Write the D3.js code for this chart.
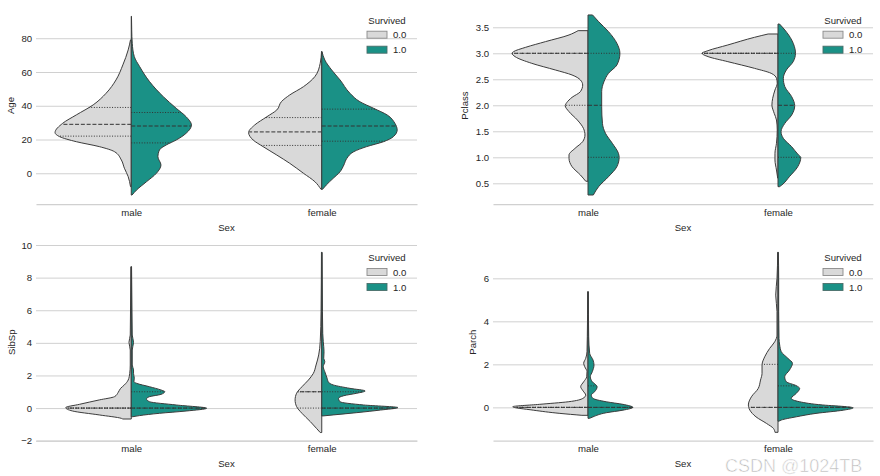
<!DOCTYPE html>
<html><head><meta charset="utf-8">
<script src="https://cdn.jsdelivr.net/npm/d3@7"></script>
<style>
body{margin:0;background:#fff}
svg{display:block}
text{font-family:"Liberation Sans",Arial,sans-serif;fill:#262626}
</style>
</head><body>
<svg id="chart" width="880" height="476"></svg>
<script>
// ---------- data ----------
const categories = ["male", "female"];
const hueLevels = ["0.0", "1.0"];
const hueTitle = "Survived";
const xLabel = "Sex";

// Half-violin profiles: [value, relative half-width (1 = full half width)]
// Age
const ageMale0 = [[79.0,0.01],[73.1,0.04],[64.2,0.11],[55.3,0.20],[47.4,0.33],[40.5,0.50],[34.6,0.72],[29.6,0.90],[24.1,1.00],[21.7,0.94],[18.7,0.72],[15.8,0.42],[12.8,0.22],[7.9,0.13],[3.0,0.09],[-2.0,0.04],[-7.9,0.01]];
const ageMale1 = [[93.0,0.003],[85.0,0.006],[77.0,0.013],[69.1,0.04],[63.2,0.11],[54.3,0.24],[45.4,0.42],[38.5,0.59],[33.5,0.72],[28.6,0.79],[23.7,0.72],[19.7,0.59],[16.8,0.46],[13.8,0.37],[9.8,0.35],[4.9,0.39],[0.0,0.33],[-5.0,0.20],[-9.9,0.07],[-12.9,0.01]];
const ageFemale0 = [[72.1,0.003],[65.2,0.02],[57.3,0.09],[51.3,0.24],[46.4,0.42],[42.4,0.53],[37.5,0.59],[33.5,0.72],[28.6,0.88],[24.1,0.96],[19.7,0.90],[15.8,0.77],[10.8,0.59],[5.9,0.42],[0.0,0.24],[-5.0,0.09],[-9.5,0.01]];
const ageFemale1 = [[72.1,0.003],[67.1,0.04],[61.2,0.13],[55.3,0.24],[47.4,0.37],[42.4,0.50],[38.5,0.68],[34.5,0.86],[29.6,0.96],[25.7,0.99],[21.7,0.94],[18.7,0.81],[15.8,0.59],[12.8,0.42],[8.9,0.33],[4.9,0.29],[0.9,0.24],[-3.0,0.15],[-6.9,0.06],[-9.5,0.01]];
const ageQuartiles = [[22,29,39],[18,28,36],[16.5,24.5,33],[19,28,38]];
const ageTicks = [0,20,40,60,80];
const ageDomain = [-18.2, 98.5];

// Pclass
const pclassMale0 = [[3.435,0.13],[3.352,0.25],[3.224,0.56],[3.115,0.82],[3.031,0.98],[3.0,1.0],[2.936,0.96],[2.807,0.74],[2.679,0.43],[2.583,0.21],[2.487,0.10],[2.390,0.07],[2.262,0.10],[2.153,0.21],[2.051,0.28],[1.993,0.30],[1.878,0.25],[1.717,0.14],[1.557,0.06],[1.429,0.04],[1.301,0.07],[1.173,0.17],[1.044,0.25],[0.980,0.25],[0.820,0.21],[0.660,0.10],[0.540,0.03]];
const pclassMale1 = [[3.737,0.06],[3.608,0.14],[3.416,0.27],[3.192,0.38],[3.0,0.42],[2.775,0.38],[2.615,0.27],[2.454,0.21],[2.262,0.18],[1.974,0.18],[1.653,0.19],[1.461,0.23],[1.269,0.32],[1.077,0.40],[1.0,0.41],[0.820,0.38],[0.628,0.27],[0.436,0.14],[0.275,0.07]];
const pclassFemale0 = [[3.371,0.13],[3.307,0.31],[3.160,0.66],[3.051,0.92],[3.0,1.0],[2.936,0.92],[2.839,0.66],[2.711,0.31],[2.615,0.09],[2.519,0.02],[2.423,0.01],[2.294,0.04],[2.134,0.07],[2.006,0.08],[1.846,0.05],[1.717,0.02],[1.525,0.01],[1.269,0.02],[1.077,0.04],[0.948,0.04],[0.756,0.02],[0.600,0.004]];
const pclassFemale1 = [[3.563,0.02],[3.448,0.09],[3.256,0.18],[3.0,0.23],[2.839,0.20],[2.679,0.11],[2.519,0.07],[2.358,0.09],[2.166,0.18],[1.993,0.22],[1.813,0.18],[1.653,0.09],[1.493,0.04],[1.365,0.07],[1.204,0.18],[1.044,0.27],[1.0,0.30],[0.820,0.26],[0.628,0.15],[0.467,0.05],[0.435,0.02]];
const pclassQuartiles = [[2,3,3],[1,2,3],[3,3,3],[1,2,3]];
const pclassTicks = [0.5,1.0,1.5,2.0,2.5,3.0,3.5];
const pclassDomain = [0.102, 3.89];

// SibSp
const sibspMale0 = [[8.67,0.004],[6.32,0.009],[4.48,0.013],[4.03,0.03],[3.56,0.013],[2.64,0.013],[2.13,0.02],[1.72,0.04],[1.42,0.09],[1.21,0.14],[0.97,0.17],[0.70,0.22],[0.50,0.42],[0.23,0.68],[0.03,0.86],[-0.18,0.77],[-0.42,0.42],[-0.63,0.13],[-0.67,0.11]];
const sibspMale1 = [[8.67,0.004],[6.32,0.009],[4.48,0.013],[4.03,0.03],[3.56,0.013],[2.64,0.013],[2.34,0.03],[2.13,0.03],[1.83,0.04],[1.62,0.035],[1.52,0.07],[1.31,0.24],[1.11,0.39],[1.01,0.44],[0.84,0.39],[0.70,0.24],[0.56,0.20],[0.39,0.24],[0.19,0.59],[-0.01,0.99],[-0.18,0.72],[-0.32,0.37],[-0.46,0.11],[-0.53,0.02]];
const sibspFemale0 = [[9.55,0.004],[5.91,0.009],[4.07,0.02],[3.26,0.04],[2.64,0.075],[2.13,0.11],[1.72,0.175],[1.31,0.26],[0.91,0.33],[0.50,0.35],[0.09,0.33],[-0.32,0.26],[-0.83,0.15],[-1.24,0.07],[-1.50,0.02]];
const sibspFemale1 = [[9.55,0.004],[5.91,0.009],[4.58,0.013],[4.07,0.02],[3.46,0.03],[3.05,0.026],[2.85,0.04],[2.54,0.02],[2.23,0.04],[1.83,0.07],[1.58,0.09],[1.42,0.15],[1.21,0.37],[1.05,0.57],[0.91,0.46],[0.76,0.29],[0.60,0.22],[0.39,0.24],[0.19,0.55],[0.03,1.0],[-0.12,0.77],[-0.28,0.46],[-0.42,0.15],[-0.48,0.02]];
const sibspQuartiles = [[0,0,0],[0,0,1],[0,1,1],[0,0,1]];
const sibspTicks = [-2,0,2,4,6,8,10];
const sibspDomain = [-2.0, 10.08];

// Parch
const parchMale0 = [[5.38,0.004],[3.29,0.009],[2.59,0.013],[2.28,0.03],[2.05,0.057],[1.89,0.043],[1.66,0.013],[1.42,0.017],[1.19,0.057],[0.96,0.096],[0.77,0.066],[0.57,0.03],[0.42,0.066],[0.26,0.26],[0.14,0.64],[0.03,0.99],[-0.13,0.72],[-0.28,0.37],[-0.37,0.08]];
const parchMale1 = [[5.38,0.004],[3.29,0.009],[2.51,0.022],[2.20,0.066],[1.97,0.079],[1.66,0.057],[1.42,0.03],[1.19,0.057],[0.96,0.12],[0.73,0.088],[0.57,0.043],[0.42,0.066],[0.26,0.24],[0.14,0.46],[0.0,0.59],[-0.13,0.46],[-0.25,0.24],[-0.44,0.066],[-0.51,0.02]];
const parchFemale0 = [[7.21,0.004],[6.00,0.013],[5.22,0.03],[4.45,0.013],[3.36,0.013],[3.05,0.043],[2.74,0.11],[2.35,0.175],[1.97,0.21],[1.58,0.21],[1.27,0.23],[0.88,0.26],[0.49,0.35],[0.11,0.39],[-0.13,0.37],[-0.44,0.29],[-0.75,0.15],[-0.98,0.06],[-1.16,0.04]];
const parchFemale1 = [[7.21,0.004],[6.0,0.009],[4.45,0.009],[3.21,0.013],[2.90,0.022],[2.59,0.043],[2.28,0.13],[2.05,0.19],[1.73,0.15],[1.42,0.088],[1.19,0.11],[1.01,0.24],[0.88,0.285],[0.65,0.24],[0.42,0.175],[0.26,0.285],[0.11,0.59],[0.03,0.90],[-0.02,0.99],[-0.13,0.86],[-0.28,0.50],[-0.44,0.24],[-0.59,0.043],[-0.64,0.013]];
const parchQuartiles = [[0,0,0],[0,0,1],[0,0,2],[0,0,1]];
const parchTicks = [0,2,4,6];
const parchDomain = [-1.55, 7.61];

const watermarkText = "CSDN @1024TB";

// ---------- styling / layout ----------
const hueColors = ["#d9d9d9", "#1a9186"];
const edgeColor = "#3c3c3c";
const gridColor = "#d0d0d0";

const panels = [
  {yLabel:"Age", profiles:[ageMale0,ageMale1,ageFemale0,ageFemale1], quartiles:ageQuartiles, ticks:ageTicks, domain:ageDomain, fmt:d3.format("d"),
   left:36, right:417, top:7, bottom:204, yLabelX:11, legX:367, legY:23.5},
  {yLabel:"Pclass", profiles:[pclassMale0,pclassMale1,pclassFemale0,pclassFemale1], quartiles:pclassQuartiles, ticks:pclassTicks, domain:pclassDomain, fmt:d3.format(".1f"),
   left:493, right:873, top:7, bottom:204, yLabelX:465, legX:823, legY:23.5},
  {yLabel:"SibSp", profiles:[sibspMale0,sibspMale1,sibspFemale0,sibspFemale1], quartiles:sibspQuartiles, ticks:sibspTicks, domain:sibspDomain, fmt:d3.format("d"),
   left:36, right:417, top:243.7, bottom:440.7, yLabelX:11.5, legX:367, legY:260.8},
  {yLabel:"Parch", profiles:[parchMale0,parchMale1,parchFemale0,parchFemale1], quartiles:parchQuartiles, ticks:parchTicks, domain:parchDomain, fmt:d3.format("d"),
   left:493, right:873, top:243.7, bottom:440.7, yLabelX:473, legX:823, legY:260.8}
];

const svg = d3.select("#chart");
const FS = 9.6;

function widthAt(prof, v) {
  for (let i = 0; i < prof.length - 1; i++) {
    const a = prof[i], b = prof[i+1];
    if ((v <= a[0] && v >= b[0])) {
      const t = a[0] === b[0] ? 0 : (a[0] - v) / (a[0] - b[0]);
      return a[1] + t * (b[1] - a[1]);
    }
  }
  return 0;
}

panels.forEach(p => {
  const g = svg.append("g");
  const x = d3.scalePoint().domain(categories).range([p.left, p.right]).padding(0.5);
  const y = d3.scaleLinear().domain(p.domain).range([p.bottom, p.top]);
  const w = d3.scaleLinear().domain([0, 1]).range([0, x.step() * 0.4]);

  // y axis with grid
  const ya = g.append("g").attr("transform", `translate(${p.left},0)`)
    .call(d3.axisLeft(y).tickValues(p.ticks).tickFormat(p.fmt).tickSizeInner(-(p.right - p.left)).tickSizeOuter(0).tickPadding(3.8));
  ya.select(".domain").remove();
  ya.selectAll(".tick line").attr("stroke", gridColor).attr("stroke-width", 1);
  ya.selectAll(".tick text").attr("font-size", FS).attr("fill", "#262626").style("font-family", '"Liberation Sans",Arial,sans-serif');

  // x axis
  const xa = g.append("g").attr("transform", `translate(0,${p.bottom})`)
    .call(d3.axisBottom(x).tickSize(0).tickPadding(4.8));
  xa.select(".domain").attr("stroke", gridColor).attr("stroke-width", 1.25);
  xa.selectAll(".tick text").attr("font-size", FS).attr("fill", "#262626").style("font-family", '"Liberation Sans",Arial,sans-serif');

  // axis labels
  g.append("text").attr("x", (p.left + p.right) / 2).attr("y", p.bottom + 26.5)
    .attr("text-anchor", "middle").attr("font-size", FS).text(xLabel);
  g.append("text").attr("transform", `translate(${p.yLabelX},${(p.top + p.bottom) / 2}) rotate(-90)`)
    .attr("dy", "0.35em").attr("text-anchor", "middle").attr("font-size", FS).text(p.yLabel);

  // violins
  categories.forEach((cat, ci) => {
    const cx = x(cat);
    hueLevels.forEach((h, hi) => {
      const prof = p.profiles[ci * 2 + hi];
      const sign = hi === 0 ? -1 : 1;
      const line = d3.line().x(d => cx + sign * w(d[1])).y(d => y(d[0])).curve(d3.curveMonotoneY);
      const first = prof[0][0], last = prof[prof.length - 1][0];
      const dPath = line(prof) + `L${cx},${y(last)}L${cx},${y(first)}Z`;
      g.append("path").attr("d", dPath)
        .attr("fill", hueColors[hi]).attr("stroke", edgeColor).attr("stroke-width", 1)
        .attr("stroke-linejoin", "round");
      // quartile lines
      const q = p.quartiles[ci * 2 + hi];
      q.forEach((qv, qi) => {
        const ww = w(widthAt(prof, qv));
        g.append("line")
          .attr("x1", cx).attr("x2", cx + sign * ww)
          .attr("y1", y(qv)).attr("y2", y(qv))
          .attr("stroke", "#333").attr("stroke-width", 1)
          .attr("stroke-dasharray", qi === 1 ? "4,1.8" : "1,1.6");
      });
    });
  });

  // legend
  const lg = g.append("g");
  lg.append("text").attr("x", p.legX + 20).attr("y", p.legY).attr("text-anchor", "middle")
    .attr("font-size", FS).text(hueTitle);
  hueLevels.forEach((h, hi) => {
    const top = p.legY + 7.7 + hi * 15;
    lg.append("rect").attr("x", p.legX).attr("y", top).attr("width", 20).attr("height", 7)
      .attr("fill", hueColors[hi]).attr("stroke", hi === 0 ? "#8a8a8a" : "#4a6e6a").attr("stroke-width", 0.9);
    lg.append("text").attr("x", p.legX + 26).attr("y", top + 7).attr("font-size", FS).text(h);
  });
});

// watermark
svg.append("text").attr("x", 725).attr("y", 472).attr("font-size", 18)
  .attr("stroke", "#ffffff").attr("stroke-width", 0.6)
  .style("font-family", '"Liberation Sans",Arial,sans-serif').style("fill", "#bcbcbc")
  .text(watermarkText);
</script>
</body></html>
